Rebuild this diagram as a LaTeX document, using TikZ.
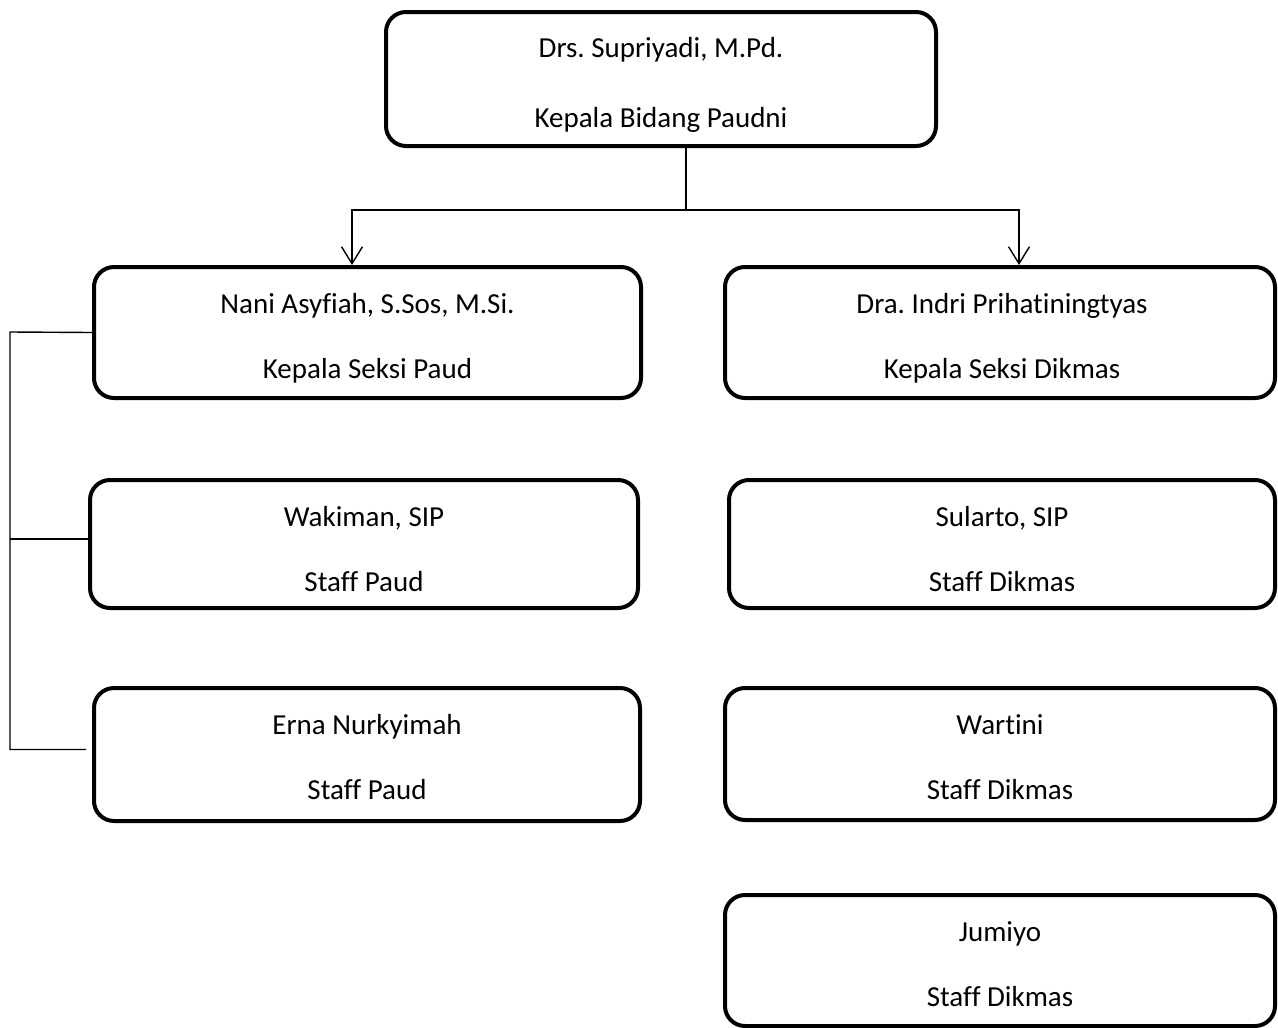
\documentclass[tikz,border=0pt]{standalone}
\usepackage{fontspec}
\setmainfont{Carlito}[Ligatures=NoCommon]
\usetikzlibrary{arrows.meta}
\frenchspacing
\begin{document}
\begin{tikzpicture}[x=1pt,y=-1pt,
  orgbox/.style={draw, line width=4pt, rounded corners=20pt, inner sep=0pt},
  conn/.style={draw, line width=1.4pt},
  arr/.style={-{Straight Barb[length=17pt,width=21pt]}},
  txt/.style={anchor=base, inner sep=0pt, font=\fontsize{29}{35}\selectfont}
]
\useasboundingbox (0,0) rectangle (1278,1028);

% boxes
\node[orgbox, minimum width=550pt, minimum height=134pt] (top) at (661,79) {};
\node[orgbox, minimum width=547pt, minimum height=131pt] (L1) at (367.5,332.5) {};
\node[orgbox, minimum width=548pt, minimum height=128pt] (L2) at (364,544) {};
\node[orgbox, minimum width=546pt, minimum height=133pt] (L3) at (367,754.5) {};
\node[orgbox, minimum width=550pt, minimum height=131pt] (R1) at (1000,332.5) {};
\node[orgbox, minimum width=546pt, minimum height=128pt] (R2) at (1002,544) {};
\node[orgbox, minimum width=550pt, minimum height=132pt] (R3) at (1000,754) {};
\node[orgbox, minimum width=550pt, minimum height=131pt] (R4) at (1000,960.5) {};

% texts
\node[txt] (top1) at ([yshift=-47pt]top.north) {Drs. Supriyadi, M.Pd.};
\begin{scope}
  \clip (top.north west) rectangle ([yshift=16pt]top.south east);
  \node[txt] (top2) at ([yshift=-117pt]top.north) {Kepala Bidang Paudni};
\end{scope}
\node[txt] (L1a) at ([yshift=-48pt]L1.north) {Nani Asyfiah, S.Sos, M.Si.};
\node[txt] (L1b) at ([yshift=-113pt]L1.north) {Kepala Seksi Paud};
\node[txt] (L2a) at ([yshift=-48pt]L2.north) {Wakiman, SIP};
\node[txt] (L2b) at ([yshift=-113pt]L2.north) {Staff Paud};
\node[txt] (L3a) at ([yshift=-48pt]L3.north) {Erna Nurkyimah};
\node[txt] (L3b) at ([yshift=-113pt]L3.north) {Staff Paud};
\node[txt] (R1a) at ([xshift=2pt,yshift=-48pt]R1.north) {Dra. Indri Prihatiningtyas};
\node[txt] (R1b) at ([xshift=2pt,yshift=-113pt]R1.north) {Kepala Seksi Dikmas};
\node[txt] (R2a) at ([yshift=-48pt]R2.north) {Sularto, SIP};
\node[txt] (R2b) at ([yshift=-113pt]R2.north) {Staff Dikmas};
\node[txt] (R3a) at ([yshift=-48pt]R3.north) {Wartini};
\node[txt] (R3b) at ([yshift=-113pt]R3.north) {Staff Dikmas};
\node[txt] (R4a) at ([yshift=-48pt]R4.north) {Jumiyo};
\node[txt] (R4b) at ([yshift=-113pt]R4.north) {Staff Dikmas};

% top connectors
\draw[conn] ([xshift=25pt]top.south) -- ++(0,62) coordinate (j);
\draw[conn, arr] (j) -| ([xshift=-15.5pt]L1.north);
\draw[conn, arr] (j) -| ([xshift=19pt]R1.north);

% left bracket
\coordinate (bk) at (10,332);
\coordinate (l2w) at ([yshift=5pt]L2.west);
\coordinate (l3w) at ([xshift=-6pt,yshift=5pt]L3.west);
\draw[conn] (L1.west) -- (bk) -- (bk |- l3w) -- (l3w);
\draw[conn] (bk |- l2w) -- (l2w);
\end{tikzpicture}
\end{document}
